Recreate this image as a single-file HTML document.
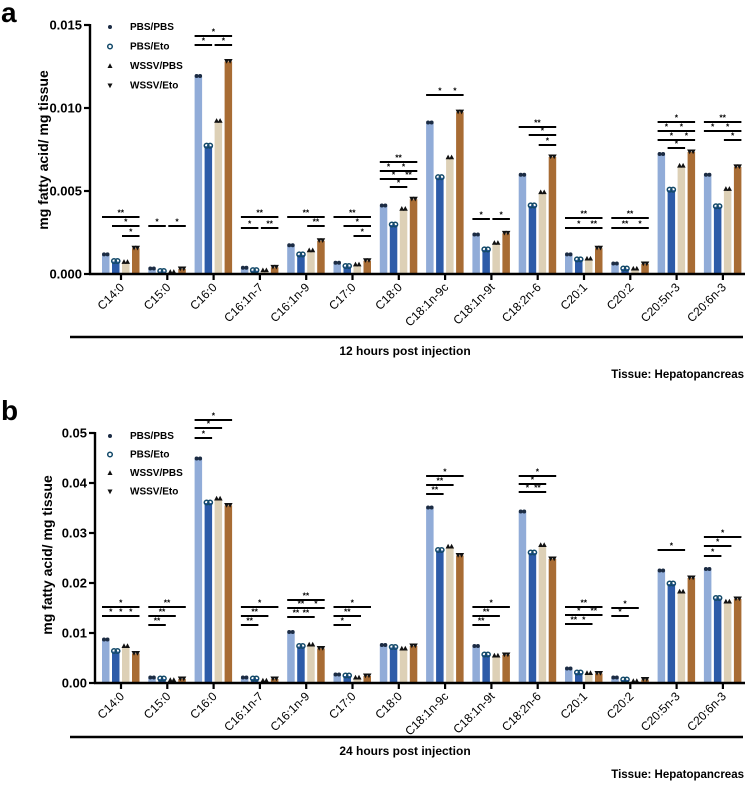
<!DOCTYPE html>
<html><head><meta charset="utf-8"><style>
body{margin:0;background:#fff}
svg{display:block;font-family:"Liberation Sans",Arial,sans-serif}
</style></head><body>
<svg id="c" width="748" height="785" viewBox="0 0 748 785"></svg>
<script>
const categories=["C14:0","C15:0","C16:0","C16:1n-7","C16:1n-9","C17:0","C18:0","C18:1n-9c","C18:1n-9t","C18:2n-6","C20:1","C20:2","C20:5n-3","C20:6n-3"];
const groups=["PBS/PBS","PBS/Eto","WSSV/PBS","WSSV/Eto"];
// panel a values (x0.001 mg/mg)
const a_pbspbs=[1.15,0.3,11.9,0.35,1.7,0.65,4.1,9.1,2.35,5.95,1.15,0.6,7.2,5.95];
const a_pbseto=[0.75,0.15,7.7,0.2,1.15,0.45,2.95,5.8,1.45,4.1,0.85,0.3,5.05,4.05];
const a_wssvpbs=[0.7,0.1,9.2,0.2,1.4,0.55,3.9,7.0,1.85,4.9,0.9,0.3,6.5,5.1];
const a_wssveto=[1.55,0.3,12.8,0.4,2.0,0.8,4.5,9.75,2.45,7.05,1.55,0.6,7.35,6.45];
// panel b values (x0.001)
const b_pbspbs=[8.6,1.0,44.8,1.0,10.1,1.6,7.5,35.0,7.3,34.2,2.8,1.0,22.4,22.7];
const b_pbseto=[6.3,0.8,36.0,0.8,7.3,1.4,7.1,26.5,5.6,26.0,2.0,0.6,19.8,16.9];
const b_wssvpbs=[7.3,0.5,36.8,0.4,7.6,1.0,6.8,27.2,5.4,27.5,1.9,0.3,18.2,16.2];
const b_wssveto=[5.9,0.8,35.5,0.8,6.9,1.4,7.4,25.5,5.6,24.8,1.9,0.7,21.0,16.8];
const a_ticks=["0.000","0.005","0.010","0.015"];
const b_ticks=["0.00","0.01","0.02","0.03","0.04","0.05"];
// brackets: [group, fromBar, toBar, y, label]
const a_br=[[0,0,3,217,"**"],[0,1,3,226,"*"],[0,2,3,236,"*"],[1,0,1,226,"*"],[1,2,3,226,"*"],
[2,0,3,36,"*"],[2,0,1,45,"*"],[2,2,3,45,"*"],[3,0,3,217,"**"],[3,0,1,228,"*"],[3,2,3,228,"**"],
[4,0,3,217,"**"],[4,2,3,226,"**"],[5,0,3,217,"**"],[5,1,3,226,"*"],[5,2,3,236,"*"],
[6,0,3,162,"**"],[6,0,1,171,"*"],[6,1,3,171,"*"],[6,0,2,179,"*"],[6,2,3,179,"**"],[6,1,2,187,"*"],
[7,0,2,95,"*"],[7,2,3,95,"*"],[8,0,1,219,"*"],[8,2,3,219,"*"],[9,0,3,127,"**"],[9,1,3,135,"*"],[9,2,3,145,"*"],
[10,0,3,218,"**"],[10,0,2,228,"*"],[10,2,3,228,"**"],[11,0,3,218,"**"],[11,0,2,228,"**"],[11,2,3,228,"*"],
[12,0,3,122,"*"],[12,0,1,131,"*"],[12,1,3,131,"*"],[12,0,2,140,"*"],[12,2,3,140,"*"],[12,1,2,148,"*"],
[13,0,3,122,"**"],[13,0,1,131,"*"],[13,1,3,131,"*"],[13,2,3,140,"*"]];
const b_br=[[0,0,3,607,"*"],[0,0,1,616,"*"],[0,1,2,616,"*"],[0,2,3,616,"*"],
[1,0,3,607,"**"],[1,0,2,616,"**"],[1,0,1,625,"**"],[2,0,3,420,"*"],[2,0,2,428,"*"],[2,0,1,438,"*"],
[3,0,3,607,"*"],[3,0,2,616,"**"],[3,0,1,625,"**"],[4,0,3,600,"**"],[4,0,2,608,"**"],[4,2,3,608,"*"],[4,0,1,617,"**"],[4,1,2,617,"**"],
[5,0,3,607,"*"],[5,0,2,616,"**"],[5,0,1,625,"*"],[7,0,3,476,"*"],[7,0,2,485,"**"],[7,0,1,494,"**"],
[8,0,3,607,"*"],[8,0,2,616,"**"],[8,0,1,625,"**"],[9,0,3,476,"*"],[9,0,2,484,"*"],[9,0,1,492,"*"],[9,1,2,492,"**"],
[10,0,3,607,"**"],[10,0,2,615,"*"],[10,2,3,615,"**"],[10,0,1,624,"**"],[10,1,2,624,"*"],
[11,0,2,608,"*"],[11,0,1,616,"*"],[12,0,2,550,"*"],[13,0,3,537,"*"],[13,0,2,546,"*"],[13,0,1,556,"*"]];
const colors=["#91acd8","#2d5ba8","#ddd0b6","#a86c34"];
const NS="http://www.w3.org/2000/svg";
const svg=document.getElementById("c");
function el(t,at,txt){const e=document.createElementNS(NS,t);for(const k in at)e.setAttribute(k,at[k]);if(txt!=null)e.textContent=txt;svg.appendChild(e);return e;}
function marker(k,x,y){
 let e;
 if(k===0)e=el("circle",{cx:x,cy:y,r:2,fill:"#1c2c44"});
 else if(k===1)e=el("circle",{cx:x,cy:y,r:2.3,fill:"none",stroke:"#144a6a","stroke-width":1.5});
 else if(k===2)e=el("path",{d:`M${x},${y-2.7}L${x+2.5},${y+2}L${x-2.5},${y+2}Z`,fill:"#111"});
 else e=el("path",{d:`M${x},${y+2.7}L${x+2.5},${y-2}L${x-2.5},${y-2}Z`,fill:"#111"});
 return e;
}
function panel(p){
 const X=p.x0,Y0=p.y0,Y1=p.y1;
 const ys=v=>Y0-(v/p.max)*(Y0-Y1);
 const xc=i=>121+i*46.3;
 const bx=(i,k)=>xc(i)-19+k*10;
 const series=p.series;
 series.forEach((s,k)=>{s.forEach((v,i)=>{
  const r=el("rect",{x:bx(i,k),y:ys(v),width:7.5,height:Y0-ys(v),fill:colors[k]});
  
  
  marker(k,bx(i,k)+2,ys(v)-0.5);marker(k,bx(i,k)+5.5,ys(v)-0.5);
 });});
 const ya=el("line",{x1:X,y1:Y1-1,x2:X,y2:Y0+1,stroke:"#000","stroke-width":2.4});
 
 const xa=el("line",{x1:X-1,y1:Y0,x2:745,y2:Y0,stroke:"#000","stroke-width":2.4});
 
 p.ticks.forEach((t,j)=>{const v=parseFloat(t)*1000;const y=ys(v);
  el("line",{x1:X-6,y1:y,x2:X,y2:y,stroke:"#000","stroke-width":2.2});
  const tl=el("text",{x:X-8,y:y+4.5,"text-anchor":"end","font-size":13,"font-weight":"bold"},t);
  
 });
 categories.forEach((c,i)=>{const x=xc(i);
  el("line",{x1:x,y1:Y0,x2:x,y2:Y0+6,stroke:"#000","stroke-width":2.2});
  const t=el("text",{x:x+4,y:Y0+14,"text-anchor":"end","font-size":12,transform:`rotate(-45 ${x+4} ${Y0+14})`},c);
  
 });
 p.br.forEach(b=>{const x1=bx(b[0],b[1]),x2=bx(b[0],b[2])+7.5;
  const l=el("line",{x1:x1,y1:b[3],x2:x2,y2:b[3],stroke:"#000","stroke-width":2});
  
  el("text",{x:(x1+x2)/2,y:b[3]-1.5,"text-anchor":"middle","font-size":8.5,"font-weight":"bold"},b[4]);
 });
 const yt=el("text",{x:0,y:0,"text-anchor":"middle","font-size":14,"font-weight":"bold",transform:`translate(${p.tx},${p.ty}) rotate(-90)`},"mg fatty acid/ mg tissue");
 
 groups.forEach((g,k)=>{const y=p.ly+k*p.lstep;marker(k,110,y-3);
  const lt=el("text",{x:130,y:y,"font-size":10,"font-weight":"bold"},g);
  
 });
 const bl=el("line",{x1:70,y1:p.by,x2:743,y2:p.by,stroke:"#000","stroke-width":2.5});
 
 const tt=el("text",{x:405,y:p.by+18,"text-anchor":"middle","font-size":12,"font-weight":"bold"},p.time);
 
 const ti=el("text",{x:744,y:p.by+41,"text-anchor":"end","font-size":11.5,"font-weight":"bold"},"Tissue: Hepatopancreas");
 
 const pl=el("text",{x:1,y:p.py,"font-size":28,"font-weight":"bold"},p.letter);
 
}
panel({x0:90,y0:274,y1:25,max:15,series:[a_pbspbs,a_pbseto,a_wssvpbs,a_wssveto],ticks:a_ticks,br:a_br,tx:48,ty:150,ly:30,lstep:19.5,by:337,time:"12 hours post injection",letter:"a",py:22});
panel({x0:95,y0:683,y1:433,max:50,series:[b_pbspbs,b_pbseto,b_wssvpbs,b_wssveto],ticks:b_ticks,br:b_br,tx:52,ty:555,ly:439,lstep:18.5,by:737,time:"24 hours post injection",letter:"b",py:420});
</script>
</body></html>
